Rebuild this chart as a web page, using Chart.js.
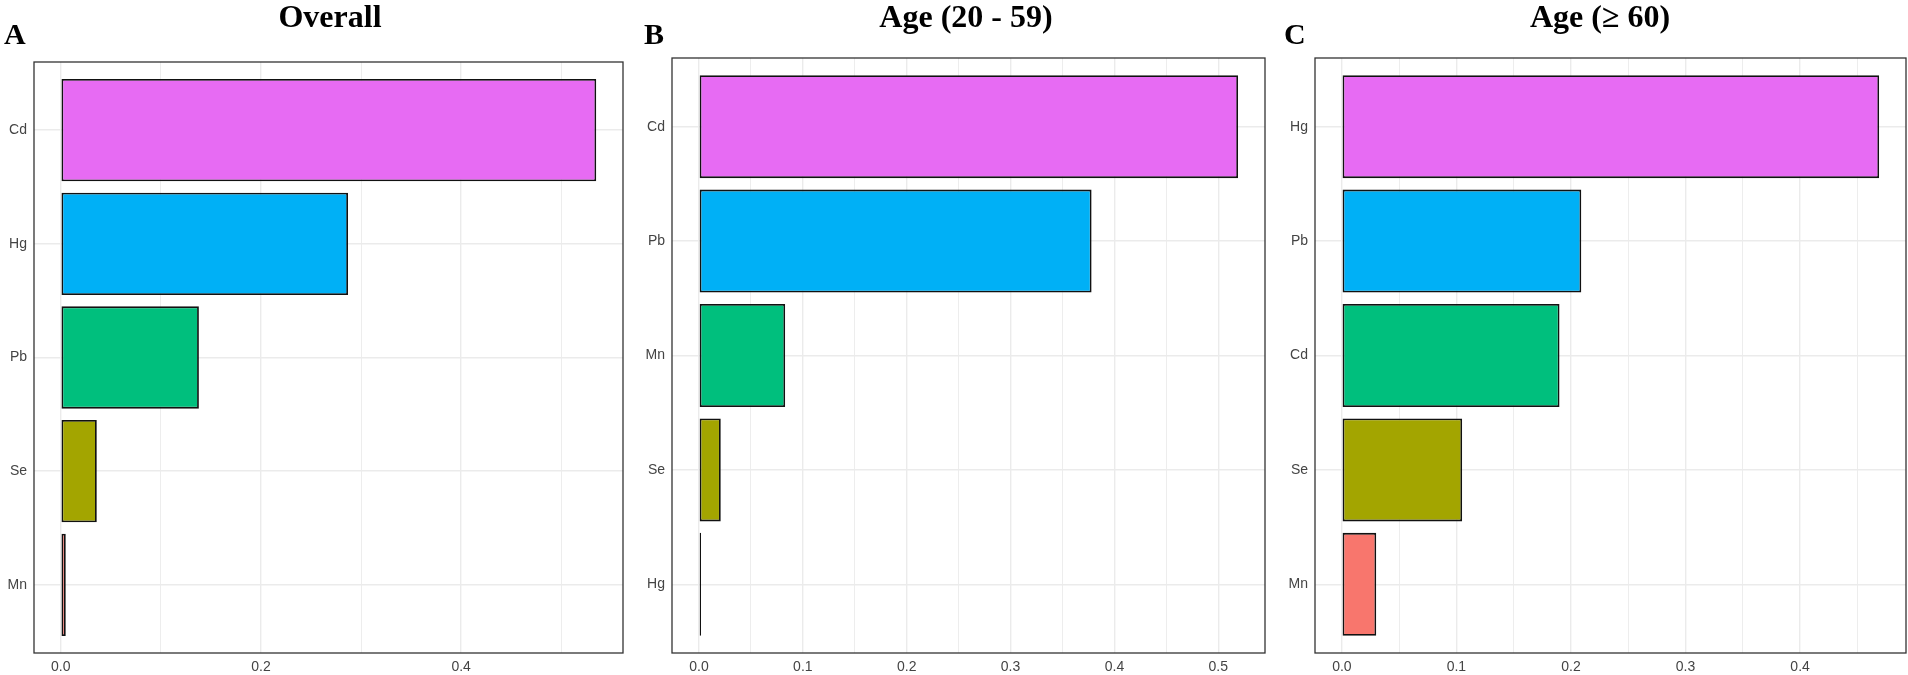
<!DOCTYPE html>
<html>
<head>
<meta charset="utf-8">
<title>Metal weights</title>
<script src="https://cdn.jsdelivr.net/npm/chart.js@4.4.1/dist/chart.umd.min.js"></script>
<style>
  html, body { margin: 0; padding: 0; background: #fff; }
  #figure { position: relative; width: 1908px; height: 675px; overflow: hidden; background: #fff; }
  #figure canvas { position: absolute; top: 0; }
  .panel-letter, .panel-title {
    position: absolute;
    font-family: 'Liberation Serif', 'Times New Roman', serif;
    font-weight: bold;
    color: #000;
    white-space: nowrap;
    line-height: 1;
  }
  .panel-letter { font-size: 30px; top: 19px; }
  .panel-title { font-size: 32px; width: 400px; text-align: center; top: 0px; }
</style>
</head>
<body>
<div id="figure">
  <canvas id="chartA" width="636" height="675" style="left:0px"></canvas>
  <canvas id="chartB" width="636" height="675" style="left:636px"></canvas>
  <canvas id="chartC" width="636" height="675" style="left:1272px"></canvas>
  <div class="panel-letter" style="left:4px">A</div>
  <div class="panel-letter" style="left:644px">B</div>
  <div class="panel-letter" style="left:1284px">C</div>
  <div class="panel-title" style="left:130px">Overall</div>
  <div class="panel-title" style="left:766px">Age (20 - 59)</div>
  <div class="panel-title" style="left:1400px">Age (≥ 60)</div>
</div>
<script>
// weights, top bar first
const overallMetals = ['Cd', 'Hg', 'Pb', 'Se', 'Mn'];
const overallWeights = [0.535, 0.287, 0.138, 0.036, 0.005];

const youngMetals = ['Cd', 'Pb', 'Mn', 'Se', 'Hg'];
const youngWeights = [0.519, 0.378, 0.083, 0.021, 0.002];

const olderMetals = ['Hg', 'Pb', 'Cd', 'Se', 'Mn'];
const olderWeights = [0.469, 0.209, 0.190, 0.105, 0.030];

// ggplot hue palette, by bar position
const barColors = ['#E76BF3', '#00B0F6', '#00BF7D', '#A3A500', '#F8766D'];

const labelFont = { family: "'Liberation Sans', Arial, sans-serif", size: 14 };
const labelColor = '#444444';
const gridColor = '#ebebeb';

function isMajor(value, step) {
    return Math.abs(value / step - Math.round(value / step)) < 1e-6;
}

const panelBorder = {
    id: 'panelBorder',
    afterDatasetsDraw(chart) {
        const { ctx, chartArea } = chart;
        ctx.save();
        ctx.strokeStyle = '#333333';
        ctx.lineWidth = 1.3;
        ctx.strokeRect(chartArea.left, chartArea.top, chartArea.right - chartArea.left, chartArea.bottom - chartArea.top);
        ctx.restore();
    }
};

function drawPanel(canvasId, metals, weights, majorStep, frame) {
    const largest = Math.max(...weights);
    const bars = weights.map((w, i) => ({ x: w, y: i + 1 }));

    return new Chart(document.getElementById(canvasId), {
        type: 'bar',
        data: {
            datasets: [{
                data: bars,
                backgroundColor: barColors,
                borderColor: '#111111',
                borderWidth: 1.8,
                borderSkipped: false,
                categoryPercentage: 1,
                barPercentage: 0.9
            }]
        },
        options: {
            indexAxis: 'y',
            responsive: false,
            animation: false,
            layout: { padding: { left: 0, right: frame.right, top: frame.top, bottom: 0 } },
            plugins: {
                legend: { display: false },
                tooltip: { enabled: false }
            },
            scales: {
                x: {
                    type: 'linear',
                    min: -0.05 * largest,
                    max: 1.05 * largest,
                    ticks: {
                        stepSize: majorStep / 2,
                        includeBounds: false,
                        autoSkip: false,
                        maxRotation: 0,
                        padding: 6,
                        color: labelColor,
                        font: labelFont,
                        callback: value => isMajor(value, majorStep) ? value.toFixed(1) : ''
                    },
                    grid: {
                        color: gridColor,
                        lineWidth: ctx => isMajor(ctx.tick.value, majorStep) ? 1.4 : 0.9,
                        drawTicks: false
                    },
                    border: { display: false },
                    afterFit: scale => { scale.height = 22; }
                },
                y: {
                    type: 'linear',
                    reverse: true,
                    offset: false,
                    min: 0.4,
                    max: metals.length + 0.6,
                    afterBuildTicks: scale => {
                        scale.ticks = metals.map((m, i) => ({ value: i + 1 }));
                    },
                    ticks: {
                        autoSkip: false,
                        padding: 7,
                        color: labelColor,
                        font: labelFont,
                        callback: value => metals[value - 1]
                    },
                    grid: {
                        offset: false,
                        color: gridColor,
                        lineWidth: 1.4,
                        drawTicks: false
                    },
                    border: { display: false },
                    afterFit: scale => { scale.width = frame.axisWidth; }
                }
            }
        },
        plugins: [panelBorder]
    });
}

drawPanel('chartA', overallMetals, overallWeights, 0.2, { axisWidth: 34, right: 13, top: 62 });
drawPanel('chartB', youngMetals, youngWeights, 0.1, { axisWidth: 36, right: 7, top: 58 });
drawPanel('chartC', olderMetals, olderWeights, 0.1, { axisWidth: 43, right: 2, top: 58 });
</script>
</body>
</html>
